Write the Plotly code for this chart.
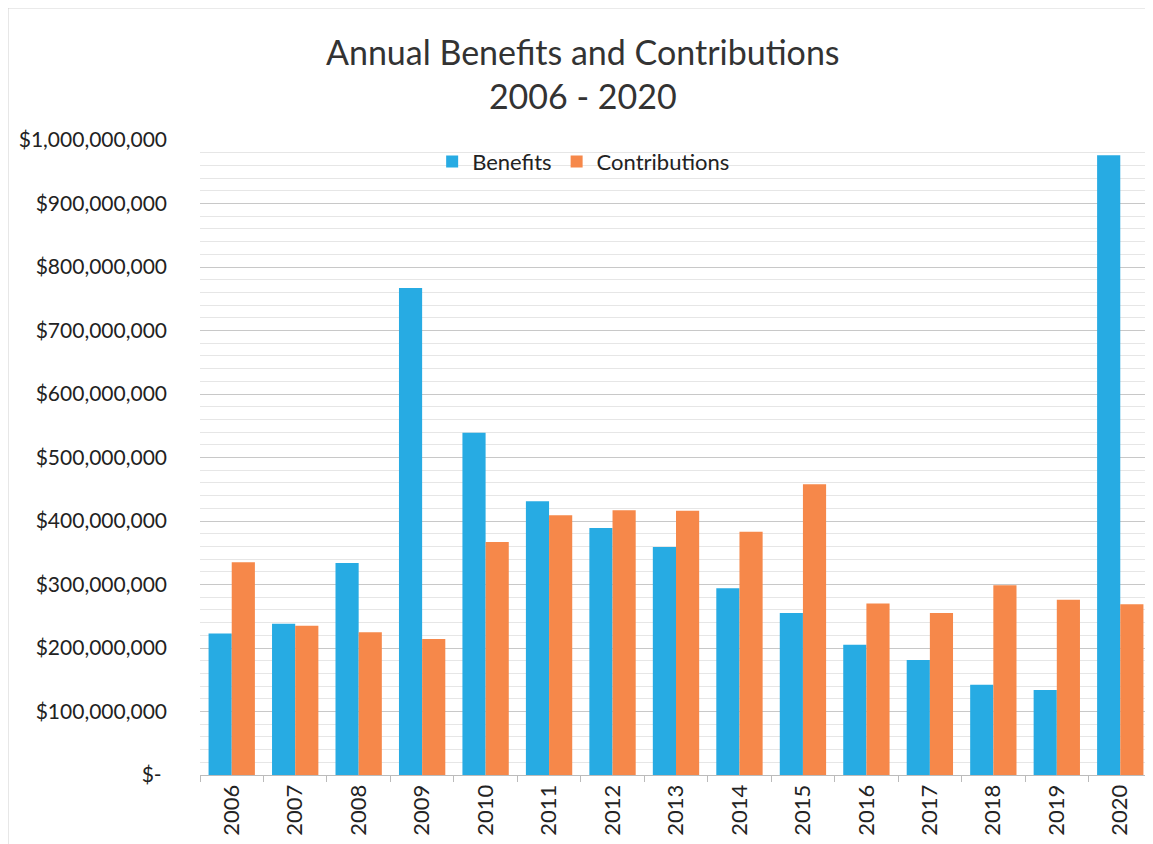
import plotly.graph_objects as go

years = [str(y) for y in range(2006, 2021)]
benefits = [223e6, 238e6, 334e6, 767e6, 539e6, 431e6, 389e6, 359e6, 294e6, 255e6,
            205e6, 181e6, 142e6, 134e6, 976e6]
contributions = [335e6, 235e6, 225e6, 214e6, 367e6, 409e6, 417e6, 416e6, 383e6, 458e6,
                 270e6, 255e6, 299e6, 276e6, 269e6]
ytick_vals = [i * 100e6 for i in range(11)]
ytick_text = ["$- "] + ["${:,.0f}".format(v) for v in ytick_vals[1:]]

FONT = "Lato"
fig = go.Figure()
fig.add_trace(go.Bar(name="Benefits", x=years, y=benefits, marker_color="#27ABE3",
                     marker_line_width=0))
fig.add_trace(go.Bar(name="Contributions", x=years, y=contributions, marker_color="#F6884A",
                     marker_line_width=0))

fig.update_layout(
    width=1145, height=836,
    margin=dict(l=192, r=1, t=132, b=69),
    paper_bgcolor="white", plot_bgcolor="white",
    font=dict(family=FONT, color="#333333"),
    barmode="group", bargap=0.27, bargroupgap=0,
    title=dict(text="Annual Benefits and Contributions<br>2006 - 2020",
               x=0.502, xanchor="center", y=0.932, yanchor="middle",
               font=dict(size=34, family=FONT, color="#333333")),
    legend=dict(orientation="h", x=0.403, xanchor="center", y=0.966, yanchor="middle",
                font=dict(size=22, family=FONT, color="#222222"), bgcolor="rgba(0,0,0,0)",
                itemwidth=30),
    xaxis=dict(type="category", tickangle=-90, tickfont=dict(size=22, color="#222222"),
               showline=True, linecolor="#bbbbbb", ticks="outside", tickson="boundaries",
               ticklen=6, tickcolor="#bbbbbb", showgrid=False),
    yaxis=dict(range=[0, 1e9], tickvals=ytick_vals, ticktext=ytick_text,
               tickfont=dict(size=21, color="#222222"), showgrid=True, gridcolor="#c8c8c8",
               gridwidth=1, zeroline=False, ticks="", ticklabelstandoff=32,
               minor=dict(dtick=20e6, showgrid=True, gridcolor="#e6e6e6", gridwidth=1)),
    shapes=[dict(type="rect", xref="paper", yref="paper", x0=-0.2017, x1=1.2, y0=-0.3, y1=1.208,
                 line=dict(color="#cccccc", width=1), layer="below")],
)

fig.write_html("out.html")
